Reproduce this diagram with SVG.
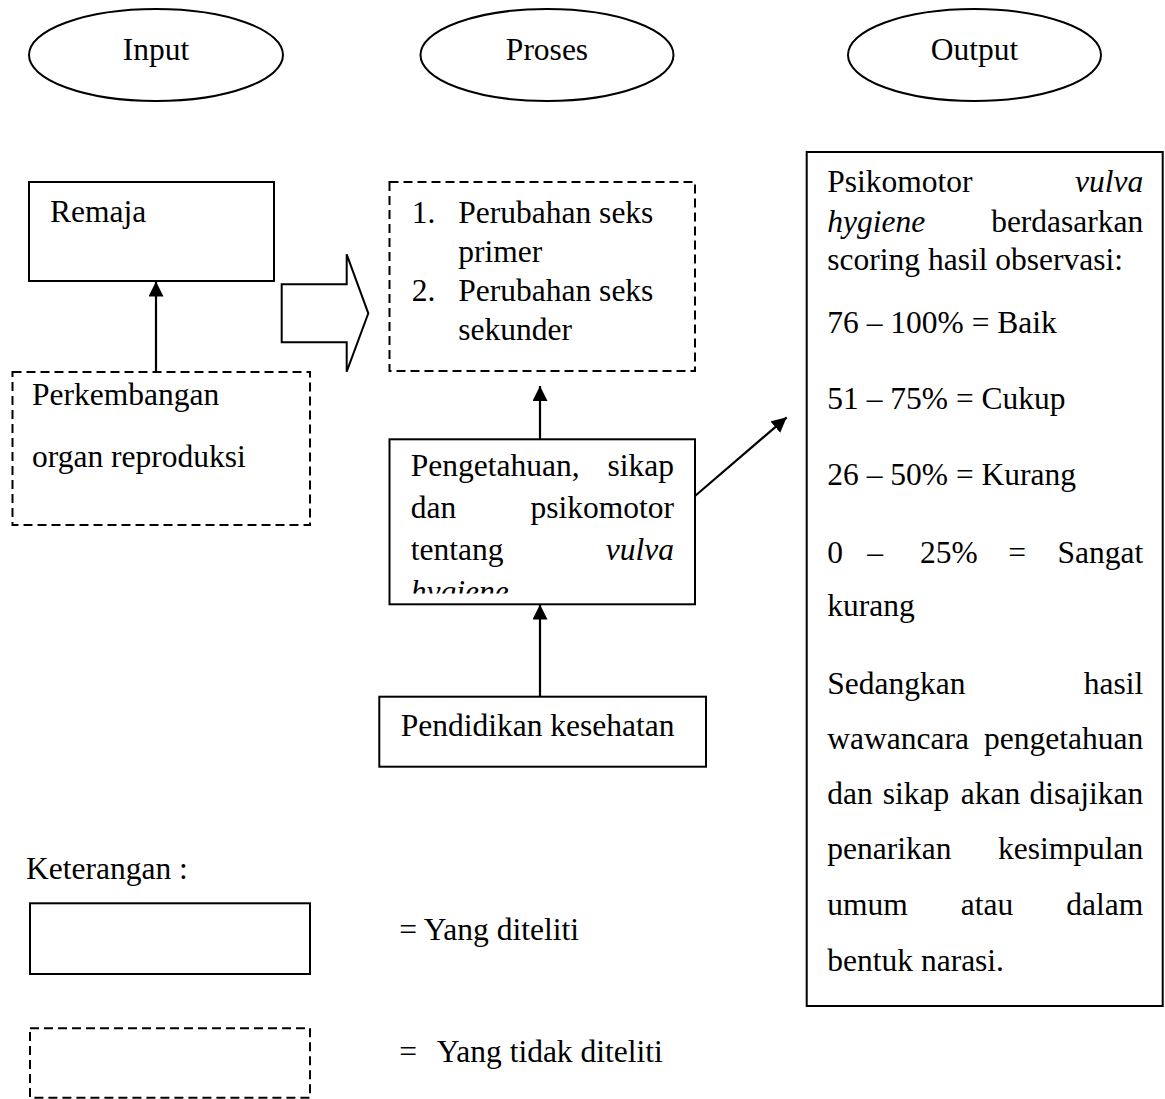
<svg xmlns="http://www.w3.org/2000/svg" width="1165" height="1099" viewBox="0 0 1165 1099">
<style>
text{font-family:"Liberation Serif","Times New Roman",serif;font-size:31.5px;fill:#000}
.i{font-style:italic}
.e{text-anchor:end}
.solid{fill:#fff;stroke:#000;stroke-width:2}
.dash{fill:#fff;stroke:#000;stroke-width:2;stroke-dasharray:9 5}
.ell{fill:#fff;stroke:#000;stroke-width:2}
.conn{fill:none;stroke:#000;stroke-width:2.2}
</style>
<defs>
<marker id="ah" markerUnits="userSpaceOnUse" markerWidth="16" markerHeight="16" refX="15" refY="7.5" orient="auto">
<path d="M0,0 L15,7.5 L0,15 z" fill="#000"/>
</marker>
<clipPath id="clipP"><rect x="390" y="440" width="304" height="153.5"/></clipPath>
</defs>
<rect width="1165" height="1099" fill="#fff"/>

<g id="hdr-input"><ellipse class="ell" cx="156" cy="55" rx="127" ry="46"/><text x="156" y="60" text-anchor="middle">Input</text></g>
<g id="hdr-proses"><ellipse class="ell" cx="547" cy="55" rx="126.5" ry="46"/><text x="547" y="60" text-anchor="middle">Proses</text></g>
<g id="hdr-output"><ellipse class="ell" cx="974.5" cy="55" rx="126.5" ry="46"/><text x="974.5" y="60" text-anchor="middle">Output</text></g>

<g id="remaja"><rect class="solid" x="29" y="182" width="245" height="99"/><text x="50" y="222">Remaja</text></g>

<g id="perkembangan"><rect class="dash" x="12.5" y="372" width="297.5" height="153"/>
<text x="32" y="405">Perkembangan</text><text x="32" y="467">organ reproduksi</text></g>

<g id="block-arrow"><polygon points="281.7,284.3 346.7,284.3 346.7,254.3 368.3,313.3 346.7,371.7 346.7,342.3 281.7,342.3" fill="#fff" stroke="#000" stroke-width="2"/></g>

<g id="perubahan"><rect class="dash" x="389.5" y="182" width="305.5" height="189"/>
<text x="411.7" y="222.5">1.</text><text x="458.3" y="222.5">Perubahan seks</text>
<text x="458.3" y="261.5">primer</text>
<text x="411.7" y="300.5">2.</text><text x="458.3" y="300.5">Perubahan seks</text>
<text x="458.3" y="340">sekunder</text></g>

<g id="pengetahuan"><rect class="solid" x="389.5" y="439.3" width="305.5" height="165"/>
<g clip-path="url(#clipP)">
<text x="410.7" y="476">Pengetahuan,</text><text class="e" x="674" y="476">sikap</text>
<text x="410.7" y="517.5">dan</text><text class="e" x="674" y="517.5">psikomotor</text>
<text x="410.7" y="559.5">tentang</text><text class="e i" x="674" y="559.5">vulva</text>
<text class="i" x="410.7" y="601.5">hygiene</text>
</g></g>

<g id="pendidikan"><rect class="solid" x="379.3" y="696.7" width="326.7" height="70"/><text x="400.7" y="736">Pendidikan kesehatan</text></g>

<g id="output-box"><rect class="solid" x="806.7" y="152" width="356" height="854"/>
<text x="827.3" y="192">Psikomotor</text><text class="e i" x="1143.3" y="192">vulva</text>
<text class="i" x="827.3" y="231.5">hygiene</text><text class="e" x="1143.3" y="231.5">berdasarkan</text>
<text x="827.3" y="270">scoring hasil observasi:</text>
<text x="827.3" y="332.5">76 – 100% = Baik</text>
<text x="827.3" y="408.5">51 – 75% = Cukup</text>
<text x="827.3" y="485">26 – 50% = Kurang</text>
<text x="827.3" y="562.5">0</text><text x="867.3" y="562.5">–</text><text x="920" y="562.5">25%</text><text x="1008.3" y="562.5">=</text><text class="e" x="1143.3" y="562.5">Sangat</text>
<text x="827.3" y="616">kurang</text>
<text x="827.3" y="693.5">Sedangkan</text><text class="e" x="1143.3" y="693.5">hasil</text>
<text x="827.3" y="748.5">wawancara</text><text class="e" x="1143.3" y="748.5">pengetahuan</text>
<text x="827.3" y="803.5">dan</text><text x="882.7" y="803.5">sikap</text><text x="960.7" y="803.5">akan</text><text class="e" x="1143.3" y="803.5">disajikan</text>
<text x="827.3" y="859.3">penarikan</text><text class="e" x="1143.3" y="859.3">kesimpulan</text>
<text x="827.3" y="915">umum</text><text x="960.7" y="915">atau</text><text class="e" x="1143.3" y="915">dalam</text>
<text x="827.3" y="970.7">bentuk narasi.</text></g>

<g id="legend">
<text x="26" y="879">Keterangan :</text>
<rect class="solid" x="30" y="903.3" width="280" height="70.7"/>
<text x="399.3" y="939.5">= Yang diteliti</text>
<rect class="dash" x="30" y="1028.3" width="280" height="69.4"/>
<text x="399.3" y="1061.7">=</text><text x="436.7" y="1061.7">Yang tidak diteliti</text>
</g>

<g id="connectors">
<line class="conn" x1="156" y1="372" x2="156" y2="281.5" marker-end="url(#ah)"/>
<line class="conn" x1="540" y1="439.3" x2="540" y2="386" marker-end="url(#ah)"/>
<line class="conn" x1="540" y1="696.7" x2="540" y2="604.5" marker-end="url(#ah)"/>
<line class="conn" x1="695" y1="496" x2="786.7" y2="417.3" marker-end="url(#ah)"/>
</g>
</svg>
